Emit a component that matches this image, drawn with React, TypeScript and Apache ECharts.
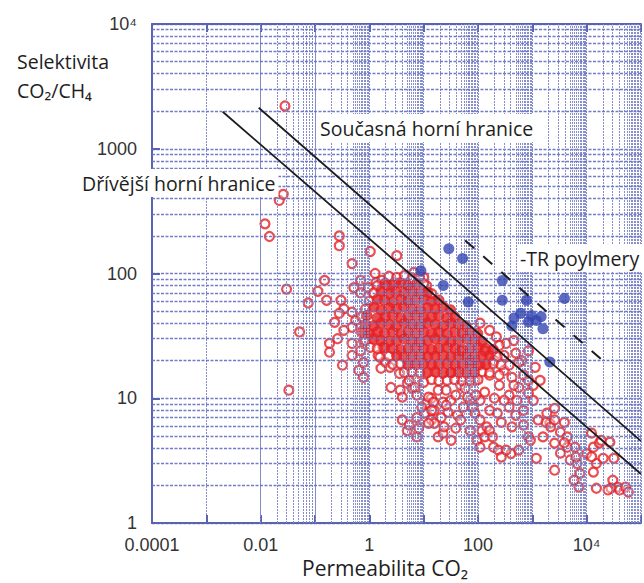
import React, { useEffect, useRef } from "react";
import * as echarts from "echarts";

// Robeson-type upper bounds (CO2 permeability, CO2/CH4 selectivity)
const robeson1991: number[][] = [[0.002, 1980], [100000, 2.47]];
const robeson2008: number[][] = [[0.0092, 2130], [100000, 4.53]];
const trBound: number[][] = [[58, 184], [24700, 18.4]];

// TR polymers (blue, filled)
const blueTR: number[][] = [
  [8.9, 105], [29, 158], [52, 132], [23, 80], [66, 59], [280, 88], [280, 61], [780, 61],
  [3900, 63], [460, 44], [610, 48], [850, 41], [1180, 42], [1570, 36], [1450, 45], [420, 38],
  [960, 46], [2100, 19.5],
];

// dense core of polymer data (red, overlapping)
const redCore: number[][] = [
  [1.95, 83], [2.7, 81], [3.7, 84], [5.2, 80], [7.2, 82],
  [1.65, 72], [2.3, 69], [3.1, 71], [4.4, 70], [6.2, 72], [8.5, 70], [11.8, 71],
  [1.4, 62], [1.9, 61], [2.7, 59], [3.8, 62], [5.2, 60], [7.1, 61], [10, 62], [14, 60], [19, 61],
  [1.2, 54], [1.65, 51], [2.3, 53], [3.2, 52], [4.3, 54], [6.1, 52], [8.6, 51], [11.8, 53], [16.4, 52], [23, 54], [31, 51],
  [0.9, 46], [1.4, 44], [1.95, 45], [2.7, 46], [3.7, 44], [5.1, 45], [7.2, 46], [10, 44], [14, 45], [19, 46], [27, 44], [37, 45],
  [0.85, 39], [1.2, 38], [1.65, 40], [2.3, 39], [3.1, 38], [4.4, 40], [6.1, 39], [8.5, 38], [11.6, 40], [16.4, 39], [23, 38], [32, 40], [44, 39], [60, 38],
  [0.8, 34], [1.0, 33], [1.4, 34], [1.9, 33], [2.7, 34], [3.7, 33], [5.2, 34], [7.2, 33], [10, 34], [14, 33], [19, 34], [27, 33], [37, 34], [52, 33], [72, 34], [98, 33],
  [1.2, 30], [1.65, 29], [2.3, 28.5], [3.2, 29], [4.4, 30], [6.1, 29], [8.5, 28.5], [11.8, 29], [16.4, 30], [23, 29], [32, 28.5], [44, 29], [61, 30], [85, 29], [118, 28.5],
  [1.9, 25.5], [2.7, 25], [3.7, 24.5], [5.2, 25], [7.2, 25.5], [10, 25], [14, 24.5], [19, 25], [27, 25.5], [37, 25], [52, 24.5], [72, 25], [100, 25.5], [139, 25], [190, 24.5],
  [3.2, 22], [4.4, 21.5], [6.1, 21.7], [8.5, 22], [11.8, 21.5], [16.4, 21.7], [23, 22], [32, 21.5], [44, 21.7], [61, 22], [85, 21.5], [118, 21.7], [164, 22],
  [5.2, 18.5], [7.2, 18.7], [10, 19], [14, 18.5], [19, 18.7], [27, 19], [37, 18.5], [52, 18.7], [72, 19], [100, 18.5], [139, 18.7],
  [11.8, 16.1], [16.4, 16.3], [23, 16], [32, 16.1], [44, 16.3], [61, 16], [85, 16.1],
];

// scattered polymer data (red, hollow)
const redPolymers: number[][] = [
  [0.028, 2200], [0.022, 385], [0.026, 430], [0.012, 250], [0.0145, 198], [0.030, 75], [0.052, 34], [0.033, 11.6],
  [0.075, 58], [0.28, 200], [0.28, 167], [1.04, 150], [3.2, 139], [0.48, 120], [0.15, 88], [0.113, 72],
  [0.164, 61], [0.30, 61], [0.34, 52], [0.28, 48], [0.48, 49], [0.56, 42], [0.48, 37], [0.52, 77],
  [0.69, 88], [0.96, 77], [0.69, 70], [1.28, 100], [1.33, 85], [1.7, 88], [2.1, 80], [2.9, 85],
  [4.4, 83], [6.1, 88], [6.6, 102], [10, 93], [11.3, 80], [0.26, 30], [0.185, 27.5], [0.185, 23.4],
  [0.48, 27.5], [0.48, 22], [0.69, 24], [0.78, 19.4], [0.64, 16.7], [0.32, 18.4], [0.78, 14.7], [1.64, 17.4],
  [1.45, 22], [1.78, 25.6], [2.5, 12.2], [3.7, 11.6], [5.0, 13.2], [6.1, 12], [4.05, 10.2], [4.05, 6.7],
  [5.0, 5.5], [7.5, 4.9], [8.1, 5.75], [5.4, 6.1], [10.4, 7.6], [13.9, 6.7], [15.7, 8.0], [13.9, 10],
  [18.5, 11.6], [11.3, 9.1], [22.7, 9.3], [18.5, 4.9], [22.7, 5.25], [23.7, 5.9], [39, 5.75], [28, 7.7],
  [31.6, 9.6], [42, 7.3], [54, 8.5], [72, 9.6], [88, 7.6], [109, 6.7], [118, 5.5], [96, 4.6],
  [109, 4.05], [145, 5.9], [133, 4.9], [193, 4.05], [237, 3.84], [405, 3.6], [329, 3.84], [268, 3.37],
  [562, 3.84], [850, 4.9], [920, 4.6], [1180, 3.3], [1570, 4.9], [2100, 6.3], [1850, 7.6], [2570, 8.3],
  [1780, 6.4], [2180, 5.9], [3880, 6.4], [3290, 5.35], [4390, 4.9], [2570, 4.37], [4390, 4.05], [3290, 3.63],
  [6100, 4.05], [4970, 3.2], [6630, 3.0], [10000, 3.6], [13300, 4.05], [12300, 5.25], [17100, 4.37], [15100, 3.0],
  [13300, 2.56], [7500, 2.5], [5860, 2.2], [7200, 1.94], [20100, 3.3], [30300, 2.2], [37300, 1.94], [28000, 1.9],
  [15100, 1.9], [18500, 4.6], [26800, 4.45], [40500, 1.84], [24700, 1.84], [51800, 1.94], [58600, 1.77], [31600, 3.3],
  [2570, 6.7], [3880, 4.4], [2570, 2.65], [6360, 3.37], [12300, 3.4],
  [109, 40], [164, 35], [218, 31], [329, 27.5], [497, 23], [636, 20], [848, 24], [1130, 17.7],
  [848, 11], [562, 19.4], [422, 14.7], [562, 12.2], [518, 9.6], [373, 8.5], [497, 7.3], [422, 5.9],
  [227, 7.6], [268, 6.4], [164, 5.5], [185, 4.9], [109, 9.6], [64, 10.2], [81, 8.5], [21, 7.0], [15.7, 6.3],
  [48, 24], [72, 20], [133, 24], [200, 20], [303, 16.7], [164, 15.3], [88, 13.9], [48, 12.7],
  [26, 11.6], [247, 12.7], [373, 10.6], [32, 16], [109, 18.4], [303, 22], [458, 29], [690, 15.3],
  [1040, 12.7], [1390, 13.9],
  [0.78, 29], [1.04, 25.6], [1.57, 21.3], [2.0, 19.4], [2.4, 17.7], [3.6, 15.8], [5.4, 13.9], [6.9, 12.2],
  [10, 13.4], [12.3, 10.2], [15.1, 9.3], [9.2, 8.5], [7.5, 7.0], [12.3, 6.3], [0.23, 40.6], [0.34, 35],
  [2.3, 95], [3.2, 93], [4.4, 96], [6.1, 92], [8.4, 94], [1.4, 80], [10, 83], [1.2, 70], [14, 69],
  [1.0, 60], [0.85, 52], [0.72, 45], [0.72, 34], [0.85, 29], [1.4, 25], [2.3, 21.7], [225, 21.5],
  [2.7, 18.7], [3.7, 19], [193, 19], [265, 18.5], [4.4, 16.1], [6.1, 16.3], [8.5, 16], [118, 16.3],
  [164, 16], [14, 14.1], [19, 13.8], [27, 13.9], [37, 14.1], [52, 13.8], [72, 13.9], [100, 14.1],
  [7.5, 10.6], [39, 10.6], [58, 12], [133, 11.2], [200, 10], [303, 9.6], [164, 8.0], [48, 6.7],
  [72, 5.5], [32, 4.6], [690, 8], [1040, 9.6], [690, 6.1], [1280, 6.7], [373, 18.4], [247, 26.5],
  [26, 8.8], [14, 8], [92, 10.6], [247, 15.3], [458, 12.7], [848, 13.9],
];

// log-paper sub-divisions
const xGridMultipliers = [2, 3, 4, 5, 5.5, 6, 6.5, 7, 7.5, 8, 8.5, 9, 9.5];
const yGridMultipliers = [2, 3, 4, 5, 6, 7, 8, 9];
const xDecadeExps = [-4, -3, -2, -1, 0, 1, 2, 3, 4];
const yDecadeExps = [0, 1, 2, 3];

const FRAME = "#5a62b2";
const VGRID = "#8088c8";
const HGRID = "#6c75c0";
const RED = "#e52226";

const xLabel = (v: number) => {
  const e = Math.round(Math.log10(v));
  if (e % 2 !== 0) return "";
  if (e >= 4) return "10\u2074";
  return e < 0 ? v.toFixed(-e) : String(Math.round(v));
};
const yLabel = (v: number) => {
  const e = Math.round(Math.log10(v));
  if (e >= 4) return "10\u2074";
  return String(Math.round(v));
};

export default function App() {
  const ref = useRef<HTMLDivElement>(null);
  useEffect(() => {
    if (!ref.current) return;
    const chart = echarts.init(ref.current, undefined, { renderer: "svg" });
    const vStyle = { color: VGRID, width: 1, type: [2, 1] as any, opacity: 0.95 };
    const hStyle = { color: HGRID, width: 1.3, type: [3, 1.5] as any, opacity: 0.95 };
    const vLines: any[] = [];
    const hLines: any[] = [];
    xDecadeExps.forEach((e) =>
      xGridMultipliers.forEach((m) => vLines.push({ xAxis: m * Math.pow(10, e) }))
    );
    yDecadeExps.forEach((e) =>
      yGridMultipliers.forEach((m) => hLines.push({ yAxis: m * Math.pow(10, e) }))
    );
    const labelFont = '"Liberation Sans", Arial, sans-serif';
    const axisLineStyle = { color: FRAME, width: 2 };
    const textFont = '"Open Sans", "DejaVu Sans", sans-serif';
    const option: any = {
      animation: false,
      backgroundColor: "#ffffff",
      grid: { left: 152, right: -12, top: 24, bottom: 60, containLabel: false },
      xAxis: [
        {
          type: "log", logBase: 10, min: 0.0001, max: 100000, position: "bottom",
          axisLine: { show: true, onZero: false, lineStyle: axisLineStyle },
          axisTick: { show: true, inside: true, length: 8, lineStyle: axisLineStyle },
          axisLabel: { formatter: xLabel, fontSize: 18, color: "#333", margin: 13, fontFamily: labelFont },
          splitLine: { show: true, lineStyle: vStyle },
        },
        {
          type: "log", logBase: 10, min: 0.0001, max: 100000, position: "top",
          axisLine: { show: true, onZero: false, lineStyle: axisLineStyle },
          axisTick: { show: true, inside: true, length: 8, lineStyle: axisLineStyle },
          axisLabel: { show: false },
          splitLine: { show: false },
        },
      ],
      yAxis: [
        {
          type: "log", logBase: 10, min: 1, max: 10000, position: "left",
          axisLine: { show: true, onZero: false, lineStyle: axisLineStyle },
          axisTick: { show: true, inside: true, length: 8, lineStyle: axisLineStyle },
          axisLabel: { formatter: yLabel, fontSize: 18, color: "#333", margin: 15, fontFamily: labelFont },
          splitLine: { show: true, lineStyle: hStyle },
        },
      ],
      series: [
        {
          type: "scatter", data: [], silent: true, z: 1,
          markLine: {
            silent: true, symbol: ["none", "none"], label: { show: false },
            lineStyle: vStyle, emphasis: { disabled: true }, animation: false,
            data: vLines,
          },
        },
        {
          type: "scatter", data: [], silent: true, z: 1,
          markLine: {
            silent: true, symbol: ["none", "none"], label: { show: false },
            lineStyle: hStyle, emphasis: { disabled: true }, animation: false,
            data: hLines,
          },
        },
        {
          type: "scatter", data: redPolymers, symbol: "circle", symbolSize: 9, z: 3, silent: true,
          itemStyle: { color: "rgba(255,255,255,0.45)", borderColor: RED, borderWidth: 2.2 },
        },
        {
          type: "scatter", data: redCore, symbol: "circle", symbolSize: 10.5, z: 4, silent: true,
          itemStyle: { color: RED, borderColor: RED, borderWidth: 1 },
        },
        {
          type: "scatter", data: blueTR, symbol: "circle", symbolSize: 11, z: 5, silent: true,
          itemStyle: { color: "#3446b0" },
        },
        {
          type: "line", data: robeson1991, symbol: "none", z: 6, silent: true,
          lineStyle: { color: "#1c1c1c", width: 1.8 },
        },
        {
          type: "line", data: robeson2008, symbol: "none", z: 6, silent: true,
          lineStyle: { color: "#1c1c1c", width: 1.8 },
        },
        {
          type: "line", data: trBound, symbol: "none", z: 6, silent: true,
          lineStyle: { color: "#1c1c1c", width: 2, type: [12, 12] },
        },
      ],
      graphic: [
        { type: "text", x: 17, y: 61, z: 100, style: { text: "Selektivita", font: `19.5px ${textFont}`, fill: "#1e1e1e", verticalAlign: "middle" } },
        { type: "text", x: 17, y: 90, z: 100, style: { text: "CO\u2082/CH\u2084", font: `19.5px ${textFont}`, fill: "#1e1e1e", verticalAlign: "middle" } },
        { type: "text", x: 302, y: 568, z: 100, style: { text: "Permeabilita CO\u2082", font: `21px ${textFont}`, fill: "#1e1e1e", verticalAlign: "middle" } },
        { type: "text", x: 317, y: 128, z: 100, style: { text: "Současná horní hranice", font: `19.5px ${textFont}`, fill: "#1e1e1e", verticalAlign: "middle", backgroundColor: "#fff", padding: [4, 3, 4, 3] } },
        { type: "text", x: 79, y: 183, z: 100, style: { text: "Dřívější horní hranice", font: `19.5px ${textFont}`, fill: "#1e1e1e", verticalAlign: "middle", backgroundColor: "#fff", padding: [4, 3, 4, 3] } },
        { type: "text", x: 518, y: 258, z: 100, style: { text: "-TR poylmery", font: `19.5px ${textFont}`, fill: "#1e1e1e", verticalAlign: "middle", backgroundColor: "#fff", padding: [4, 3, 4, 2] } },
      ],
    };
    chart.setOption(option);
    return () => chart.dispose();
  }, []);
  return (
    <div
      ref={ref}
      style={{ position: "absolute", left: 0, top: 0, width: 644, height: 583, background: "#fff" }}
    />
  );
}
